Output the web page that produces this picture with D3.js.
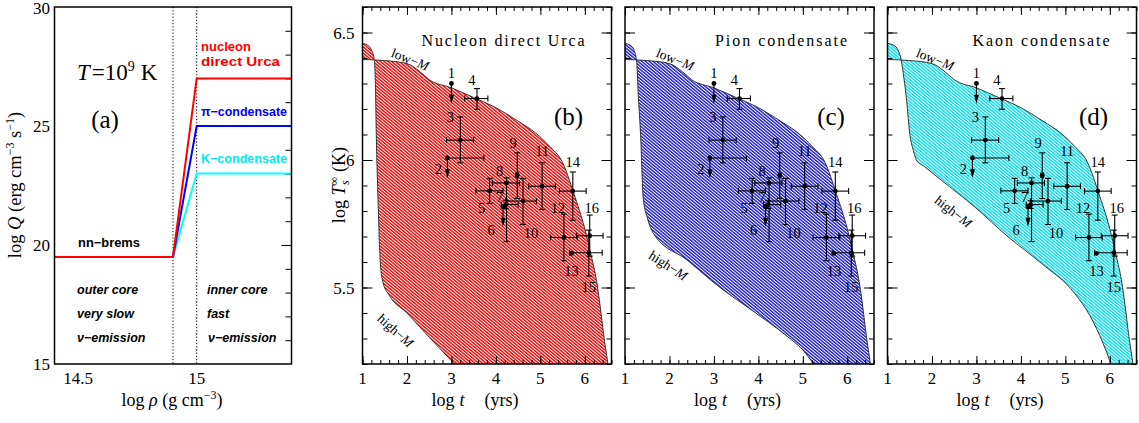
<!DOCTYPE html>
<html>
<head>
<meta charset="utf-8">
<script src="https://cdn.jsdelivr.net/npm/d3@7"></script>
<style>
    body { margin: 0; background: #fff; }
    svg { display: block; font-family: "Liberation Serif", serif; }
</style>
</head>
<body>
<script>
(function(){

    //panel (a): emissivity steps vs density
    var rhoNodes = [14.4, 14.9, 15.0, 15.4];
    var qDurca = [19.5, 19.5, 27, 27];
    var qPion = [19.5, 19.5, 25, 25];
    var qKaon = [19.5, 19.5, 23, 23];
    var rhoBoundaries = [14.9, 15.0];

    //cooling curves, pairs of [log t, log Ts]
    var lowM = [[1.0,6.394],[1.5,6.39],[2.0,6.378],[2.3,6.345],[2.5,6.315],[3.0,6.283],[3.5,6.245],
        [4.0,6.205],[4.5,6.152],[4.9,6.105],[5.2,6.055],[5.5,5.99],[5.75,5.87],[6.0,5.73],
        [6.15,5.62],[6.26,5.53],[6.35,5.42],[6.42,5.32],[6.52,5.2],[6.6,5.1]];
    var highDurca = [[1.0,6.457],[1.12,6.45],[1.2,6.432],[1.26,6.40],[1.29,6.30],[1.31,6.10],
        [1.35,5.84],[1.40,5.60],[1.46,5.52],[1.6,5.47],[2.0,5.40],[2.5,5.305],[3.07,5.2],[3.5,5.12]];
    var highPion = [[1.0,6.457],[1.12,6.45],[1.2,6.432],[1.26,6.39],[1.3,6.25],[1.35,6.1],
        [1.41,5.85],[1.5,5.775],[1.64,5.712],[2.4,5.607],[3.1,5.505],[3.9,5.405],[4.6,5.315],
        [5.0,5.255],[5.25,5.2],[5.6,5.14]];
    var highKaon = [[1.0,6.457],[1.14,6.45],[1.24,6.43],[1.31,6.39],[1.37,6.32],[1.43,6.234],
        [1.5,6.104],[1.58,6.038],[1.65,6.0],[1.84,5.973],[2.21,5.921],[2.96,5.816],[3.71,5.699],
        [4.46,5.595],[5.21,5.477],[5.55,5.39],[5.85,5.28],[6.02,5.2],[6.1,5.15]];

    //observed neutron stars
    var starIds  = ["1","2","3","4","5","6","7","8","9","10","11","12","13","14","15","16"];
    var logAge   = [3.00, 2.91, 3.20, 3.575, 3.86, 4.16, 4.22, 4.24, 4.48, 4.61, 5.04, 5.53, 5.70, 5.73, 6.09, 6.11];
    var logTemp  = [6.30, 6.008, 6.078, 6.241, 5.879, 5.816, 5.825, 5.910, 5.94, 5.839, 5.897, 5.696, 5.634, 5.878, 5.636, 5.703];
    var ageLo    = [null, 2.91, 2.89, 3.30, 3.55, null, 4.12, 3.92, 4.45, 4.22, 4.74, 5.23, null, 5.43, 5.66, 5.81];
    var ageHi    = [null, 3.73, 3.50, 3.82, 4.16, null, 4.50, 4.53, 4.51, 4.91, 5.34, 5.83, null, 6.03, 6.39, 6.41];
    var tempLo   = [null, null, 5.989, 6.199, 5.83, null, 5.81, 5.68, 5.849, 5.747, 5.806, 5.605, null, 5.764, 5.545, 5.623];
    var tempHi   = [null, null, 6.169, 6.28, 5.928, null, 5.84, 5.93, 6.028, 5.928, 5.989, 5.788, null, 5.953, 5.725, 5.784];
    var upperLim = [6.221, 5.928, null, null, null, 5.738, null, null, null, null, null, null, null, null, null, null];

    //label offsets from the star (px)
    var labelDx = [0, -9, -10, -5, -8, -12, -6, -7, -4, 8, 0, -6, 0, 0, 0, 2];
    var labelDy = [-11, 11, -23, -19, 17, 23, -8, -12, -32, 32, -35, -30, 18, -29, 34, -28];

    //tick values
    var ageTicks = [1, 2, 3, 4, 5, 6];
    var tempTicks = [5.5, 6, 6.5];
    var tempTickLabels = ["5.5", "6", "6.5"];
    var rhoTicks = [14.5, 15];
    var qTicks = [15, 20, 25, 30];

    var width = 1139,
        height = 423,
        top = 7,
        bottom = 364;

    var svg = d3.select("body")
        .append("svg")
        .attr("width", width)
        .attr("height", height);

    var defs = svg.append("defs");

    //panel settings built from the arrays above
    var panels = [
        {key: "b", left: 362.5, high: highDurca, color: "#f00000", title: "Nucleon direct Urca", titleLen: 163,
            lowLab: [410, 60, 22], highLab: [395, 331, 42], yLabels: true},
        {key: "c", left: 625, high: highPion, color: "#1a1ad0", title: "Pion condensate", titleLen: 132,
            lowLab: [675, 60, 22], highLab: [668, 266, 33], yLabels: false},
        {key: "d", left: 887.5, high: highKaon, color: "#00dce8", title: "Kaon condensate", titleLen: 137,
            lowLab: [935, 60, 22], highLab: [953, 212, 38], yLabels: false}
    ];

    drawPanelA();
    panels.forEach(drawCoolingPanel);

    //helper: inside ticks through d3 axes
    function ticks(g, axisFn, scale, values, size, transform){
        g.append("g")
            .attr("transform", transform)
            .call(axisFn(scale).tickValues(values).tickSize(size).tickFormat(""))
            .call(function(s){ s.select(".domain").remove(); })
            .selectAll("line").attr("stroke", "#000").attr("stroke-width", 1);
    }

    function drawPanelA(){
        var x = d3.scaleLinear().domain([14.4, 15.4]).range([54.5, 291.5]);
        var y = d3.scaleLinear().domain([15, 30]).range([bottom, top]);
        var g = svg.append("g").attr("class", "panelA");

        //right-side ticks
        ticks(g, d3.axisRight, y, d3.range(16, 30, 1), -6, "translate(" + x(15.4) + ",0)");
        ticks(g, d3.axisRight, y, [20, 25], -10, "translate(" + x(15.4) + ",0)");

        //dotted boundaries between outer and inner core
        g.selectAll(".bound")
            .data(rhoBoundaries)
            .enter()
            .append("line")
            .attr("x1", function(d){ return x(d); })
            .attr("x2", function(d){ return x(d); })
            .attr("y1", top)
            .attr("y2", bottom)
            .attr("stroke", "#000")
            .attr("stroke-width", 1)
            .attr("stroke-dasharray", "1.2,2");

        var line = d3.line()
            .x(function(d, i){ return x(rhoNodes[i]); })
            .y(function(d){ return y(d); });

        [[qKaon, "#00ffff"], [qPion, "#0000ff"], [qDurca, "#ff0000"]].forEach(function(s){
            g.append("path")
                .attr("d", line(s[0]))
                .attr("fill", "none")
                .attr("stroke", s[1])
                .attr("stroke-width", 2);
        });

        //frame
        g.append("rect")
            .attr("x", x(14.4)).attr("y", top)
            .attr("width", x(15.4) - x(14.4)).attr("height", bottom - top)
            .attr("fill", "none").attr("stroke", "#000").attr("stroke-width", 1.5);

        //tick labels
        g.selectAll(".ql")
            .data(qTicks)
            .enter()
            .append("text")
            .attr("x", 50)
            .attr("y", function(d){ return Math.max(y(d) + 6, 14); })
            .attr("text-anchor", "end")
            .attr("font-size", 17)
            .text(function(d){ return d; });

        g.selectAll(".rl")
            .data(rhoTicks)
            .enter()
            .append("text")
            .attr("x", function(d){ return x(d); })
            .attr("y", 384)
            .attr("text-anchor", "middle")
            .attr("font-size", 17)
            .text(function(d){ return d; });

        //axis titles
        var yl = g.append("text")
            .attr("transform", "translate(21,185) rotate(-90)")
            .attr("text-anchor", "middle")
            .attr("font-size", 18.5);
        yl.append("tspan").text("log ");
        yl.append("tspan").attr("font-style", "italic").text("Q");
        yl.append("tspan").text(" (erg cm");
        yl.append("tspan").attr("dy", -7).attr("font-size", 12).text("\u22123");
        yl.append("tspan").attr("dy", 7).text(" s");
        yl.append("tspan").attr("dy", -7).attr("font-size", 12).text("\u22121");
        yl.append("tspan").attr("dy", 7).text(")");

        var xl = g.append("text")
            .attr("x", 172).attr("y", 406)
            .attr("text-anchor", "middle")
            .attr("font-size", 18);
        xl.append("tspan").text("log ");
        xl.append("tspan").attr("font-style", "italic").text("\u03c1");
        xl.append("tspan").text(" (g cm");
        xl.append("tspan").attr("dy", -7).attr("font-size", 12).text("\u22123");
        xl.append("tspan").attr("dy", 7).text(")");

        //temperature and panel letter
        var tl = g.append("text").attr("x", 77).attr("y", 80).attr("font-size", 23);
        tl.append("tspan").attr("font-style", "italic").text("T");
        tl.append("tspan").attr("dx", 2).text("=10");
        tl.append("tspan").attr("dy", -9).attr("font-size", 14).text("9");
        tl.append("tspan").attr("dy", 9).attr("dx", 6).text("K");

        g.append("text").attr("x", 105).attr("y", 128)
            .attr("text-anchor", "middle").attr("font-size", 25).text("(a)");

        //process labels
        var labs = [
            ["nucleon", 201, 51, "#ff0000", 50],
            ["direct Urca", 201, 66, "#ff0000", 79],
            ["\u03c0\u2212condensate", 201, 116, "#0000ff", 86],
            ["K\u2212condensate", 201, 163, "#00e8f0", 86],
            ["nn\u2212brems", 78, 247, "#000", 62]
        ];
        g.selectAll(".plab")
            .data(labs)
            .enter()
            .append("text")
            .attr("x", function(d){ return d[1]; })
            .attr("y", function(d){ return d[2]; })
            .attr("fill", function(d){ return d[3]; })
            .attr("textLength", function(d){ return d[4]; })
            .attr("lengthAdjust", "spacingAndGlyphs")
            .style("font-family", "'Liberation Sans', sans-serif")
            .style("font-weight", "bold")
            .attr("font-size", 12.5)
            .text(function(d){ return d[0]; });

        var regions = [
            ["outer core", 77, 294], ["very slow", 77, 318], ["\u03bd\u2212emission", 77, 342],
            ["inner core", 207, 294], ["fast", 207, 318], ["\u03bd\u2212emission", 208, 342]
        ];
        g.selectAll(".rlab")
            .data(regions)
            .enter()
            .append("text")
            .attr("x", function(d){ return d[1]; })
            .attr("y", function(d){ return d[2]; })
            .style("font-family", "'Liberation Sans', sans-serif")
            .style("font-style", "italic")
            .style("font-weight", "bold")
            .attr("font-size", 12.5)
            .text(function(d){ return d[0]; });
    }

    function drawCoolingPanel(p){
        var pw = 249;
        var x = d3.scaleLinear().domain([1, 6.6]).range([p.left, p.left + pw]);
        var y = d3.scaleLinear().domain([5.2, 6.6]).range([bottom, top]);
        var g = svg.append("g").attr("class", "panel" + p.key);

        //fine hatch pattern
        var pat = defs.append("pattern")
            .attr("id", "hatch" + p.key)
            .attr("patternUnits", "userSpaceOnUse")
            .attr("width", 2.4).attr("height", 2.4)
            .attr("patternTransform", "rotate(-50)");
        pat.append("rect").attr("width", 2.4).attr("height", 2.4).attr("fill", "#fff");
        pat.append("rect").attr("width", 1.4).attr("height", 2.4).attr("fill", p.color);

        defs.append("clipPath")
            .attr("id", "clip" + p.key)
            .append("rect")
            .attr("x", p.left).attr("y", top)
            .attr("width", pw).attr("height", bottom - top);

        var line = d3.line()
            .x(function(d){ return x(d[0]); })
            .y(function(d){ return y(d[1]); })
            .curve(d3.curveMonotoneX);

        var plot = g.append("g").attr("clip-path", "url(#clip" + p.key + ")");

        //band between low-mass and high-mass cooling curves
        plot.append("path")
            .attr("d", line(lowM) + "L" + line(p.high.slice().reverse()).slice(1) + "Z")
            .attr("fill", "url(#hatch" + p.key + ")");

        [lowM, p.high].forEach(function(c){
            plot.append("path")
                .attr("d", line(c))
                .attr("fill", "none")
                .attr("stroke", "#222")
                .attr("stroke-width", 0.9);
        });

        //ticks
        var bt = "translate(0," + bottom + ")", tt = "translate(0," + top + ")";
        var lt = "translate(" + p.left + ",0)", rt = "translate(" + (p.left + pw) + ",0)";
        var minorAge = d3.range(1, 6.61, 0.2);
        var minorTemp = d3.range(5.2, 6.61, 0.1);
        ticks(g, d3.axisBottom, x, minorAge, -4, bt);
        ticks(g, d3.axisBottom, x, ageTicks, -8, bt);
        ticks(g, d3.axisTop, x, minorAge, -4, tt);
        ticks(g, d3.axisTop, x, ageTicks, -8, tt);
        ticks(g, d3.axisLeft, y, minorTemp, -5, lt);
        ticks(g, d3.axisLeft, y, tempTicks, -10, lt);
        ticks(g, d3.axisRight, y, minorTemp, -5, rt);
        ticks(g, d3.axisRight, y, tempTicks, -10, rt);

        //stars
        var stars = g.selectAll(".star")
            .data(starIds)
            .enter()
            .append("g")
            .attr("class", "star");

        stars.each(function(id, i){
            var s = d3.select(this);
            var cx = x(logAge[i]), cy = y(logTemp[i]);
            if (ageLo[i] !== null){
                s.append("line").attr("x1", x(ageLo[i])).attr("x2", x(ageHi[i]))
                    .attr("y1", cy).attr("y2", cy);
                [ageLo[i], ageHi[i]].forEach(function(a){
                    s.append("line").attr("x1", x(a)).attr("x2", x(a))
                        .attr("y1", cy - 3).attr("y2", cy + 3);
                });
            };
            if (tempLo[i] !== null){
                s.append("line").attr("x1", cx).attr("x2", cx)
                    .attr("y1", y(tempLo[i])).attr("y2", y(tempHi[i]));
                [tempLo[i], tempHi[i]].forEach(function(v){
                    s.append("line").attr("x1", cx - 3).attr("x2", cx + 3)
                        .attr("y1", y(v)).attr("y2", y(v));
                });
            };
            if (upperLim[i] !== null){
                var tip = y(upperLim[i]);
                s.append("line").attr("x1", cx).attr("x2", cx).attr("y1", cy).attr("y2", tip - 4);
                s.append("path")
                    .attr("d", "M" + (cx - 2.5) + "," + (tip - 9) + "L" + (cx + 2.5) + "," + (tip - 9) + "L" + cx + "," + tip + "Z")
                    .attr("fill", "#000");
            };
            s.selectAll("line").attr("stroke", "#000").attr("stroke-width", 1.1);
            s.append("circle").attr("cx", cx).attr("cy", cy).attr("r", 2.4).attr("fill", "#000");
            s.append("text")
                .attr("x", cx + labelDx[i])
                .attr("y", cy + labelDy[i] + 5)
                .attr("text-anchor", "middle")
                .attr("fill", "#000")
                .attr("font-size", 14.5)
                .text(id);
        });

        //frame
        g.append("rect")
            .attr("x", p.left).attr("y", top)
            .attr("width", pw).attr("height", bottom - top)
            .attr("fill", "none").attr("stroke", "#000").attr("stroke-width", 1.5);

        //tick labels
        g.selectAll(".al")
            .data(ageTicks)
            .enter()
            .append("text")
            .attr("x", function(d){ return x(d); })
            .attr("y", 384)
            .attr("text-anchor", "middle")
            .attr("font-size", 17)
            .text(function(d){ return d; });

        if (p.yLabels){
            g.selectAll(".tl")
                .data(tempTicks)
                .enter()
                .append("text")
                .attr("x", p.left - 8)
                .attr("y", function(d){ return y(d) + 6; })
                .attr("text-anchor", "end")
                .attr("font-size", 17)
                .text(function(d, i){ return tempTickLabels[i]; });

            var yl = g.append("text")
                .attr("transform", "translate(345,185) rotate(-90)")
                .attr("text-anchor", "middle")
                .attr("font-size", 18);
            yl.append("tspan").text("log ");
            yl.append("tspan").attr("font-style", "italic").text("T");
            yl.append("tspan").attr("dy", -7).attr("font-size", 12).text("\u221e");
            yl.append("tspan").attr("dx", -8).attr("dy", 11).attr("font-size", 12).attr("font-style", "italic").text("s");
            yl.append("tspan").attr("dy", -4).attr("dx", 4).text(" (K)");
        };

        var xl = g.append("text")
            .attr("x", p.left + 69).attr("y", 406)
            .attr("font-size", 18);
        xl.append("tspan").text("log");
        xl.append("tspan").attr("dx", 5).attr("font-style", "italic").text("t");
        xl.append("tspan").attr("dx", 20).text("(yrs)");

        //titles and curve labels
        g.append("text")
            .attr("x", p.left + pw - 27).attr("y", 46)
            .attr("text-anchor", "end")
            .attr("font-size", 16)
            .attr("textLength", p.titleLen)
            .attr("lengthAdjust", "spacing")
            .text(p.title);

        g.append("text")
            .attr("x", p.left + pw - 43).attr("y", 125)
            .attr("text-anchor", "middle")
            .attr("font-size", 25)
            .text("(" + p.key + ")");

        [[p.lowLab, "low\u2212"], [p.highLab, "high\u2212"]].forEach(function(l){
            var t = g.append("text")
                .attr("transform", "translate(" + l[0][0] + "," + l[0][1] + ") rotate(" + l[0][2] + ")")
                .attr("text-anchor", "middle")
                .attr("dy", 4)
                .attr("font-size", 13.5);
            t.append("tspan").text(l[1]);
            t.append("tspan").attr("font-style", "italic").text("M");
        });
    }

})();
</script>
</body>
</html>
